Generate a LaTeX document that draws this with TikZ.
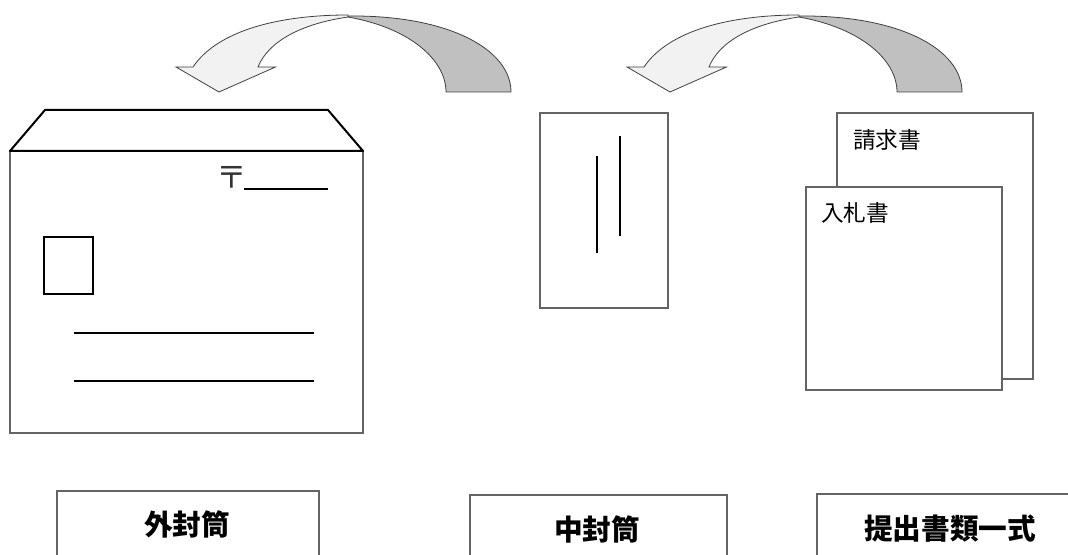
\documentclass[tikz,border=0pt]{standalone}
\usepackage{fontspec}
\newfontfamily\jpfont{Noto Sans CJK JP}
\usepackage{tikz}
\tikzset{>=latex}
\definecolor{facelight}{RGB}{242,242,242}
\definecolor{facedark}{RGB}{192,192,192}
\definecolor{edgegray}{RGB}{100,100,100}
\tikzset{
    sheet/.style={draw=edgegray, line width=.8pt, fill=white},
    ink/.style={draw=black, line width=1.5pt},
    doclabel/.style={font=\jpfont\fontsize{17}{19}\selectfont, anchor=west, inner sep=0pt},
    boxlabel/.style={font=\jpfont\bfseries\fontsize{21.5}{24}\selectfont, inner sep=0pt}
}
% curved 3d arrow, #1 = horizontal shift
\newcommand{\bentArrow}[1]{
    \begin{scope}[xshift=#1*0.75pt, draw=black!75, line width=.6pt]
        \filldraw[fill=facedark](348, 16) .. controls (450, 15) and (511, 50) .. (511, 92)
            -- (446, 92) .. controls (446, 60) and (410, 28) .. (348, 17) -- cycle;
        \filldraw[fill=facelight](193, 67) .. controls (218, 30) and (280, 15) .. (348, 15)
            -- (348, 17) .. controls (300, 24) and (268, 42) .. (258, 67)
            -- (275.5, 67) -- (219, 92) -- (176, 67) -- cycle;
    \end{scope}
}

\begin{document}
\begin{tikzpicture}[x=0.75pt, y=-0.75pt]
    \useasboundingbox (0, 0) rectangle (1068, 555);
    \bentArrow{0}
    \bentArrow{451}
    % outer envelope
    \draw[sheet](10, 151) rectangle (363, 433);
    \draw[ink, line join=round](10, 151) -- (45, 110) -- (328, 110) -- (363, 151) -- cycle;
    \node[font=\jpfont\fontsize{23}{25}\selectfont, inner sep=0pt, text=black!80] (zip) at (232, 177) {〒};
    \draw[line width=1.5pt](244, 189) -- (328, 189);
    \draw[line width=.9pt](44, 237) rectangle (93, 294);
    \draw[ink](74, 333) -- (314, 333);
    \draw[ink](74, 381) -- (314, 381);
    % inner envelope
    \draw[sheet](540, 113) rectangle (668, 308);
    \draw[line width=1.2pt](597, 156) -- (597, 253);
    \draw[line width=1.2pt](620, 136) -- (620, 236);
    % documents
    \draw[sheet](837, 113) rectangle (1033, 379);
    \node[doclabel] (seikyu) at (853, 140) {請求書};
    \draw[sheet](806, 187) rectangle (1002, 390);
    \node[doclabel] (nyusatsu) at (821, 213) {入札書};
    % captions
    \draw[edgegray, line width=.8pt](57, 560) |- (319, 491) -- (319, 560);
    \node[boxlabel] (soto) at (187, 524) {外封筒};
    \draw[edgegray, line width=.8pt](470, 560) |- (727, 495) -- (727, 560);
    \node[boxlabel] (naka) at (597, 529) {中封筒};
    \draw[edgegray, line width=.8pt](817, 560) |- (1075, 494);
    \node[boxlabel] (ichishiki) at (950, 529) {提出書類一式};
\end{tikzpicture}
\end{document}
